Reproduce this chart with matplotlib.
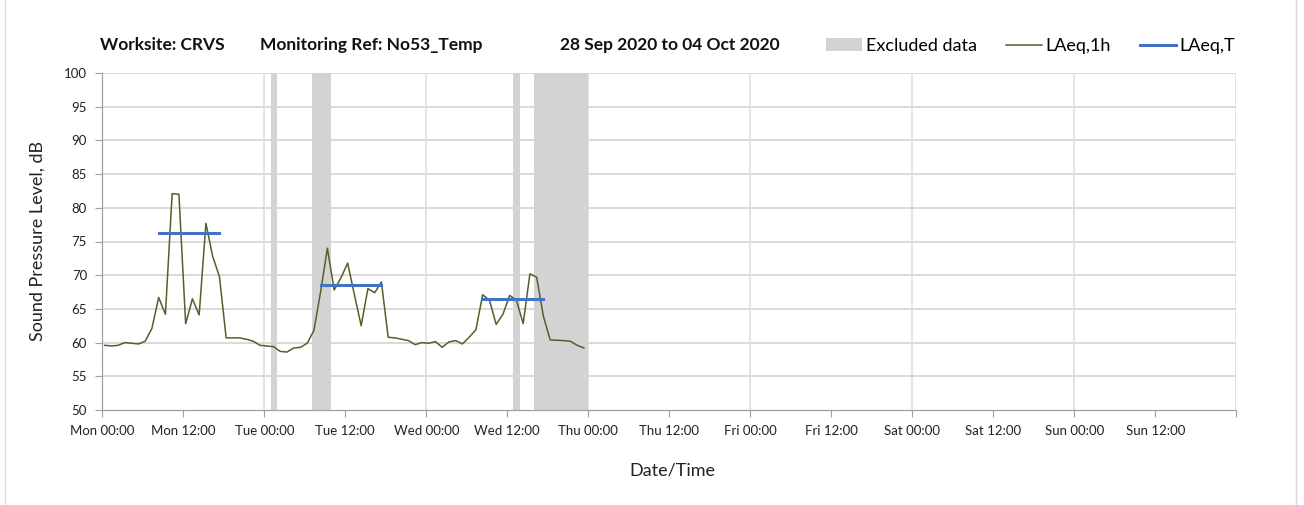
import numpy as np
import matplotlib
matplotlib.use("Agg")
import matplotlib.pyplot as plt
from matplotlib.patches import Patch, Rectangle
from matplotlib.lines import Line2D

plt.rcParams['font.family'] = ['Lato', 'DejaVu Sans']

# ---- data (hours from Mon 00:00) ----
laeq_1h = [59.6, 59.5, 59.6, 60.0, 59.9, 59.8, 60.2, 62.1, 66.7, 64.2,
           82.1, 82.0, 62.8, 66.5, 64.1, 77.7, 72.8, 69.8, 60.7, 60.7,
           60.7, 60.5, 60.2, 59.6, 59.5, 59.4, 58.7, 58.6, 59.2, 59.3,
           59.9, 61.8, 67.6, 74.0, 67.8, 69.6, 71.8, 67.1, 62.5, 68.0,
           67.4, 69.0, 60.8, 60.7, 60.5, 60.3, 59.7, 60.0, 59.9, 60.15,
           59.3, 60.1, 60.3, 59.8, 60.8, 61.9, 67.1, 66.3, 62.7, 64.2,
           67.0, 66.3, 62.8, 70.2, 69.7, 63.9, 60.4, 60.35, 60.3, 60.2,
           59.6, 59.2]
point_offset_h = 0.35

laeq_T_start = [8, 32, 56]
laeq_T_end = [17, 41, 65]
laeq_T_values = [76.3, 68.6, 66.4]

excluded_start = [25.0, 31.0, 60.9, 63.95]
excluded_end = [25.95, 33.9, 61.85, 72.0]

tick_hours = list(range(0, 169, 12))
tick_labels = ['Mon 00:00', 'Mon 12:00', 'Tue 00:00', 'Tue 12:00', 'Wed 00:00',
               'Wed 12:00', 'Thu 00:00', 'Thu 12:00', 'Fri 00:00', 'Fri 12:00',
               'Sat 00:00', 'Sat 12:00', 'Sun 00:00', 'Sun 12:00', '']
y_ticks = list(range(50, 101, 5))

W, H = 1304, 505
fig = plt.figure(figsize=(W / 100, H / 100), dpi=100)
ax = fig.add_axes([102.3 / W, 1 - 410 / H, (1236.3 - 102.3) / W, (410 - 73) / H])

ax.set_xlim(0, 168)
ax.set_ylim(50, 100)

# grid
for y in y_ticks[1:]:
    ax.axhline(y, color='#d0d0d0', lw=1.1, zorder=0)
for x in range(24, 169, 24):
    ax.axvline(x, color='#dcdcdc', lw=1.1, zorder=0)

# excluded periods
for s, e in zip(excluded_start, excluded_end):
    ax.axvspan(s, e, color='#d3d3d3', lw=0, zorder=1)

hours = np.arange(len(laeq_1h)) + point_offset_h
ax.plot(hours, laeq_1h, color='#4f6228', lw=1.1, zorder=3)

for s, e, v in zip(laeq_T_start, laeq_T_end, laeq_T_values):
    ax.plot([s + point_offset_h, e + point_offset_h], [v, v], color='#4472c4',
            lw=2.2, zorder=4)

ax.set_xticks(tick_hours)
ax.set_xticklabels(tick_labels, fontsize=9.5, color='#222222')
ax.set_yticks(y_ticks)
ax.set_yticklabels([str(v) for v in y_ticks], fontsize=9.5, color='#222222')
ax.tick_params(axis='both', direction='out', length=5, width=0.8, color='#a0a0a0')
ax.tick_params(axis='x', pad=6)
ax.tick_params(axis='y', pad=6)
for side in ['top', 'right']:
    ax.spines[side].set_visible(False)
for side in ['left', 'bottom']:
    ax.spines[side].set_color('#a0a0a0')
    ax.spines[side].set_linewidth(0.9)

fig.text(38 / W, 1 - 241 / H, 'Sound Pressure Level, dB', rotation=90,
         ha='center', va='center', fontsize=13, color='#222222')
fig.text(672 / W, 1 - 470 / H, 'Date/Time', ha='center', va='center',
         fontsize=13, color='#222222')

# title parts
fig.text(100 / W, 1 - 45 / H, 'Worksite: CRVS', ha='left', va='center',
         fontsize=12.5, fontweight='bold', color='#111111')
fig.text(260 / W, 1 - 45 / H, 'Monitoring Ref: No53_Temp', ha='left', va='center',
         fontsize=12.5, fontweight='bold', color='#111111')
fig.text(560 / W, 1 - 45 / H, '28 Sep 2020 to 04 Oct 2020', ha='left', va='center',
         fontsize=12.5, fontweight='bold', color='#111111')

handles = [Patch(facecolor='#d3d3d3', edgecolor='none'),
           Line2D([], [], color='#4f6228', lw=1.1),
           Line2D([], [], color='#4472c4', lw=2.2)]
labels = ['Excluded data', 'LAeq,1h', 'LAeq,T']
fig.legend(handles, labels, ncol=3, loc='center left',
           bbox_to_anchor=(826 / W, 1 - 46 / H), frameon=False, fontsize=13,
           handlelength=2.0, handletextpad=0.2, columnspacing=1.6,
           borderaxespad=0, borderpad=0)

# chart border
fig.add_artist(Rectangle((5 / W, -0.01), (1296 - 5) / W, 1.02,
                         transform=fig.transFigure, fill=False,
                         edgecolor='#d9d9d9', lw=1.0))

fig.savefig('out.png', dpi=100, facecolor='white')
